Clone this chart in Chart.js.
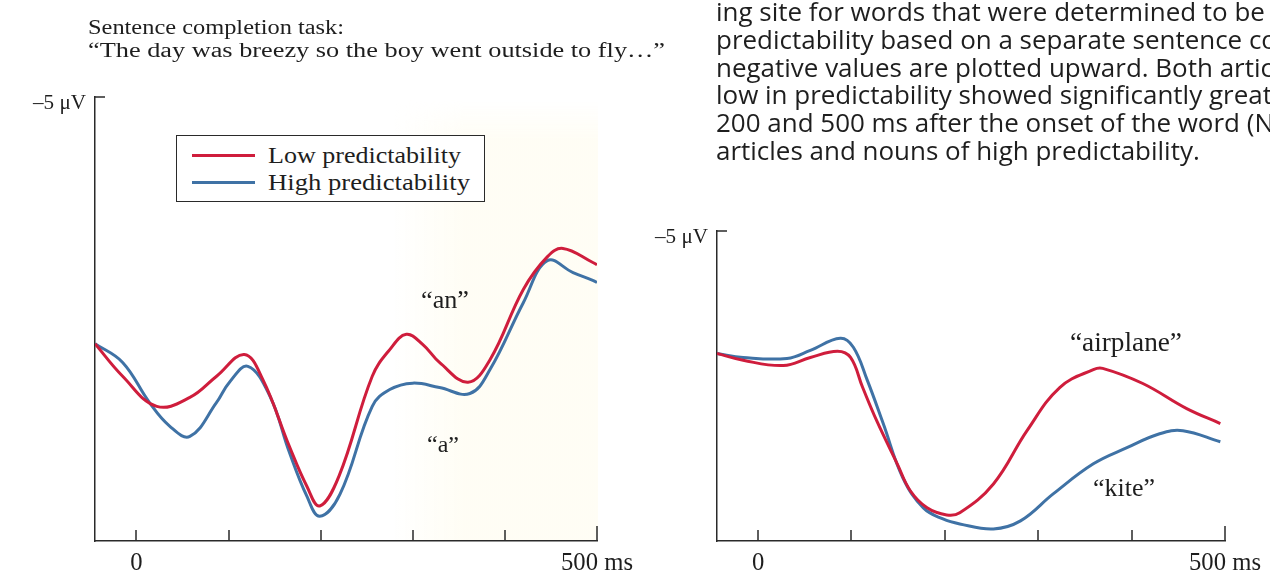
<!DOCTYPE html>
<html>
<head>
<meta charset="utf-8">
<script src="https://cdn.jsdelivr.net/npm/chart.js@4.4.1/dist/chart.umd.min.js"></script>
<style>
  html, body { margin: 0; padding: 0; background: #fff; }
  body { width: 1270px; height: 574px; overflow: hidden; position: relative; }
  canvas { position: absolute; top: 0; }
  .t { position: absolute; white-space: nowrap; line-height: 1; color: #1e1e1e; }
  #tint {
    position: absolute; left: 390px; top: 100px; width: 208px; height: 440px;
    background: linear-gradient(90deg, rgba(255,252,238,0) 0%, rgba(255,252,238,0.6) 35%, rgba(255,252,238,0.6) 100%);
    -webkit-mask-image: linear-gradient(180deg, transparent 0, #000 40px);
  }
  #legend {
    position: absolute; left: 176px; top: 135px; width: 309px; height: 67px;
    border: 1.5px solid #2a2a2a; background: #fff; box-sizing: border-box;
  }
  .swatch { position: absolute; left: 192px; width: 63px; height: 3px; }
</style>
</head>
<body>
<div id="tint"></div>
<canvas id="articleChart" width="640" height="574" style="left:0"></canvas>
<canvas id="nounChart" width="630" height="574" style="left:640px"></canvas>
<div id="legend"></div>
<div class="swatch" style="top:154px; background:#cf1d3c"></div>
<div class="swatch" style="top:181px; background:#3f72a5"></div>

<script>
const SERIF = '"Liberation Serif", "DejaVu Serif", serif';
const SANS = '"Open Sans", "Noto Sans", sans-serif';
const RED = '#cf1d3c';
const BLUE = '#3f72a5';
const INK = '#1e1e1e';

// time axis (ms) and its labels
const msTicks = [0, 100, 200, 300, 400, 500];
const msTickLabels = ['0', '', '', '', '', '500 ms'];
const uvTopLabel = '–5 μV';
const seriesNames = ['Low predictability', 'High predictability'];

// left panel: articles "an" (low) vs "a" (high), negative up
const articleLowMs = [-45, -15, 22, 58, 87, 117, 137, 166, 185, 199, 220, 256, 275, 293, 311, 329, 360, 384, 420, 446, 463, 496, 500];
const articleLowUv = [0.0, 0.66, 1.27, 1.09, 0.66, 0.22, 0.72, 2.08, 2.89, 3.29, 2.68, 0.66, 0.12, -0.19, 0.02, 0.38, 0.78, 0.32, -1.10, -1.76, -1.93, -1.64, -1.60];
const articleHighMs = [-45, -15, 14, 36, 58, 87, 101, 121, 145, 166, 185, 199, 221, 256, 275, 300, 329, 362, 384, 420, 446, 474, 496, 500];
const articleHighUv = [0.0, 0.38, 1.19, 1.67, 1.88, 1.19, 0.78, 0.46, 1.07, 2.20, 3.09, 3.50, 3.05, 1.27, 0.93, 0.80, 0.89, 1.01, 0.52, -0.83, -1.68, -1.44, -1.28, -1.24];

// right panel: nouns "airplane" (low) vs "kite" (high)
const nounLowMs = [-44, -16, 27, 56, 85, 99, 112, 127, 149, 163, 181, 202, 216, 252, 288, 323, 359, 369, 412, 459, 495];
const nounLowUv = [-1.05, -0.83, -0.66, -0.92, -1.12, -0.92, 0.05, 1.12, 2.51, 3.38, 3.93, 4.16, 4.09, 3.16, 1.44, 0.05, -0.53, -0.57, -0.08, 0.73, 1.21];
const nounHighMs = [-44, -16, 31, 56, 88, 102, 117, 134, 155, 177, 198, 216, 252, 281, 316, 359, 395, 430, 455, 495];
const nounHighUv = [-1.05, -0.92, -0.89, -1.15, -1.54, -1.25, -0.18, 1.21, 2.96, 3.93, 4.29, 4.45, 4.61, 4.35, 3.48, 2.51, 1.99, 1.54, 1.44, 1.80];

const measureCtx = document.createElement('canvas').getContext('2d');
function textWidth(text, family, size) {
  measureCtx.font = `${size}px ${family}`;
  return measureCtx.measureText(text).width;
}
function fitSize(text, family, target, base = 20) {
  return base * target / textWidth(text, family, base);
}

function toPoints(ms, uv) {
  return ms.map((t, i) => ({ x: t, y: uv[i] }));
}

// tick marks point up into the plot, plus the small corner at -5 µV
const axisMarks = {
  id: 'axisMarks',
  afterDraw(chart) {
    const { ctx, chartArea, scales: { x, y } } = chart;
    ctx.save();
    ctx.strokeStyle = '#2a2a2a';
    ctx.lineWidth = 1.5;
    ctx.beginPath();
    msTicks.forEach((t, i) => {
      const px = Math.round(x.getPixelForValue(t));
      const len = i === msTicks.length - 1 ? 15 : 11;
      ctx.moveTo(px, chartArea.bottom);
      ctx.lineTo(px, chartArea.bottom - len);
    });
    const top = y.getPixelForValue(y.min);
    ctx.moveTo(chartArea.left - 0.75, top);
    ctx.lineTo(chartArea.left + 10, top);
    ctx.stroke();

    const size = fitSize('500 ms', SERIF, 72);
    ctx.font = `${size}px ${SERIF}`;
    ctx.fillStyle = INK;
    ctx.textAlign = 'center';
    ctx.textBaseline = 'middle';
    msTicks.forEach((t, i) => {
      if (!msTickLabels[i]) return;
      ctx.fillText(msTickLabels[i], x.getPixelForValue(t), chartArea.bottom + 23);
    });
    // -5 µV label, squeezed to the printed width
    const uvSize = 20;
    ctx.font = `${uvSize}px ${SERIF}`;
    const sx = 53 / ctx.measureText(uvTopLabel).width;
    ctx.translate(chartArea.left - 9, top + 7);
    ctx.scale(sx, 1);
    ctx.textAlign = 'right';
    ctx.fillText(uvTopLabel, 0, 0);
    ctx.restore();
  }
};

function makeChart(id, low, high, xMin, yMax, padding) {
  return new Chart(document.getElementById(id), {
    type: 'line',
    data: {
      datasets: [
        { label: seriesNames[0], data: low, borderColor: RED },
        { label: seriesNames[1], data: high, borderColor: BLUE },
      ].map((d) => ({ ...d, borderWidth: 3, pointRadius: 0, fill: false, tension: 0.4 }))
    },
    options: {
      responsive: false,
      animation: false,
      layout: { padding },
      plugins: { legend: { display: false }, tooltip: { enabled: false } },
      scales: {
        x: {
          type: 'linear', min: xMin, max: 500,
          grid: { display: false, drawTicks: false },
          ticks: { display: false },
          border: { display: true, color: '#2a2a2a', width: 1.5 }
        },
        y: {
          type: 'linear', min: -5, max: yMax, reverse: true,
          grid: { display: false, drawTicks: false },
          ticks: { display: false },
          border: { display: true, color: '#2a2a2a', width: 1.5 }
        }
      }
    },
    plugins: [axisMarks]
  });
}

makeChart('articleChart', toPoints(articleLowMs, articleLowUv), toPoints(articleHighMs, articleHighUv),
  -45, 4, { left: 95, top: 97, right: 43, bottom: 33 });
makeChart('nounChart', toPoints(nounLowMs, nounLowUv), toPoints(nounHighMs, nounHighUv),
  -44, 5, { left: 77, top: 231, right: 45, bottom: 33 });

// text placed by left edge (or centre) and vertical centre; optional horizontal stretch
function addText(text, family, size, x, y, align, target) {
  const el = document.createElement('div');
  el.className = 't';
  el.textContent = text;
  el.style.fontFamily = family;
  el.style.fontSize = size + 'px';
  el.style.left = x + 'px';
  el.style.top = y + 'px';
  const sx = target ? target / textWidth(text, family, size) : 1;
  const tx = align === 'center' ? '-50%' : '0';
  el.style.transformOrigin = align === 'center' ? '50% 50%' : '0 50%';
  el.style.transform = `translate(${tx}, -50%) scaleX(${sx.toFixed(3)})`;
  document.body.appendChild(el);
}

const promptLines = ['Sentence completion task:', '“The day was breezy so the boy went outside to fly…”'];
const promptSize = 20.5;
addText(promptLines[0], SERIF, promptSize, 88, 27, 'left', 256);
addText(promptLines[1], SERIF, promptSize, 88, 50, 'left', 577);

const legendSize = 22.5;
addText(seriesNames[0], SERIF, legendSize, 268, 156, 'left', 193);
addText(seriesNames[1], SERIF, legendSize, 268, 183, 'left', 202);

const wordLabels = [
  ['“an”', 445, 300, 48],
  ['“a”', 443, 444, 32],
  ['“airplane”', 1126, 343, 112],
  ['“kite”', 1124, 488, 62],
];
wordLabels.forEach(([text, x, y, w]) => addText(text, SERIF, fitSize(text, SERIF, w), x, y, 'center'));

const captionLines = [
  'ing site for words that were determined to be high or low in',
  'predictability based on a separate sentence completion task;',
  'negative values are plotted upward. Both articles and nouns',
  'low in predictability showed significantly greater negativity',
  '200 and 500 ms after the onset of the word (N400) than',
  'articles and nouns of high predictability.',
];
const captionSize = fitSize(captionLines[5], SANS, 484);
captionLines.forEach((line, i) => addText(line, SANS, captionSize, 716, 11 + i * 27.8, 'left'));
</script>
</body>
</html>
